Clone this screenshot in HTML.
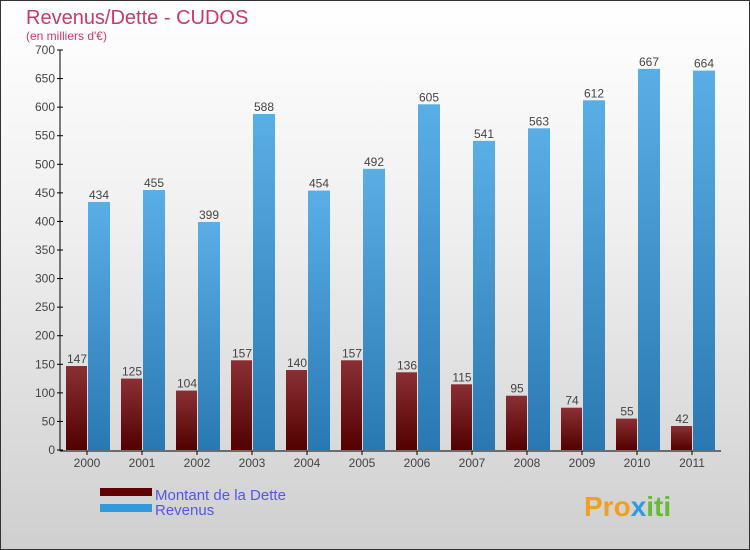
<!DOCTYPE html>
<html><head><meta charset="utf-8"><style>
body{margin:0}
#c{width:748px;height:548px;border:1px solid #333;background:linear-gradient(#fff,#f0f0f0 40%,#cfcfcf);position:relative;overflow:hidden;font-family:"Liberation Sans",sans-serif}
</style></head><body>
<div id="c">
<svg id="s" width="748" height="548">
<defs>
<linearGradient id="gd" x1="0" y1="0" x2="0" y2="1"><stop offset="0" stop-color="#8a3034"/><stop offset="1" stop-color="#520000"/></linearGradient>
<linearGradient id="gr" x1="0" y1="0" x2="0" y2="1"><stop offset="0" stop-color="#5aaee6"/><stop offset="1" stop-color="#2a78b2"/></linearGradient>
</defs>
<text x="25" y="23" font-size="20" fill="#c8386a">Revenus/Dette - CUDOS</text>
<text x="25" y="39" font-size="12" fill="#c8386a">(en milliers d'€)</text>
<g id="g"></g>
<rect x="99" y="487" width="52" height="8" fill="#600000"/>
<rect x="99" y="503" width="52" height="8" fill="#3399dd"/>
<text x="154" y="499" font-size="15" fill="#5555ee">Montant de la Dette</text>
<text x="154" y="514" font-size="15" fill="#5555ee">Revenus</text>
<text x="583" y="515" font-size="28" font-weight="bold" fill="#f0a020">Pro<tspan fill="#3399dd">x</tspan><tspan fill="#66bb33">iti</tspan></text>
</svg></div>
<script>
const years=["2000","2001","2002","2003","2004","2005","2006","2007","2008","2009","2010","2011"];
const dette=[147,125,104,157,140,157,136,115,95,74,55,42];
const revenus=[434,455,399,588,454,492,605,541,563,612,667,664];
const ticks=[0,50,100,150,200,250,300,350,400,450,500,550,600,650,700];
const NS="http://www.w3.org/2000/svg",g=document.getElementById('g');
const y=v=>449-v*400/700, xc=i=>86+i*55;
function mk(t,a,txt){const e=document.createElementNS(NS,t);for(const k in a)e.setAttribute(k,a[k]);if(txt!=null)e.textContent=txt;g.appendChild(e);return e;}
let e=mk('line',{x1:59,y1:49,x2:59,y2:450,stroke:'#000'});

e=mk('line',{x1:59,y1:450,x2:720,y2:450,stroke:'#000'});

ticks.forEach(t=>{
 let l=mk('line',{x1:56,x2:62,y1:y(t),y2:y(t),stroke:'#000'});
 
 let tx=mk('text',{x:54,y:y(t)+4,'font-size':12,fill:'#444','text-anchor':'end'},t);
 
});
years.forEach((yr,i)=>{
 const c=xc(i);
 let r=mk('rect',{x:c-21,y:y(dette[i]),width:21,height:449-y(dette[i]),fill:'url(#gd)'});
 
 r=mk('rect',{x:c+1,y:y(revenus[i]),width:22,height:449-y(revenus[i]),fill:'url(#gr)'});
 
 let t=mk('text',{x:c-10,y:y(dette[i])-3,'font-size':12,fill:'#444','text-anchor':'middle'},dette[i]);
 
 t=mk('text',{x:c+12,y:y(revenus[i])-3,'font-size':12,fill:'#444','text-anchor':'middle'},revenus[i]);
 
 let l=mk('line',{x1:c,x2:c,y1:450,y2:454,stroke:'#000'});
 
 t=mk('text',{x:c,y:466,'font-size':12,fill:'#444','text-anchor':'middle'},yr);
 
});
</script>
</body></html>
